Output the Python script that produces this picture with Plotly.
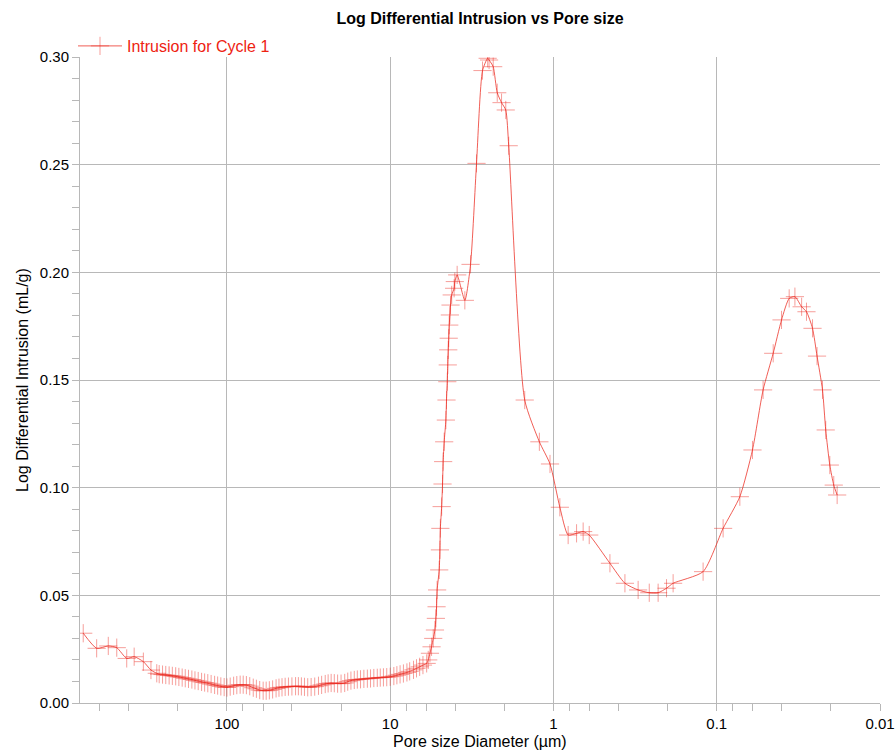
import plotly.graph_objects as go

# Pore size diameter (µm) and log differential intrusion (mL/g), Cycle 1
diameter = [
    759, 628, 533, 473, 411, 370, 325, 292, 269,
    260, 248, 237, 226, 216, 206, 197, 188, 180, 172, 164, 157, 150, 143, 137, 131,
    125, 119, 114, 109, 104, 100, 95.5, 91, 87, 83, 79.5, 76, 72.5, 69, 66, 63, 60,
    57.5, 55, 52.5, 50, 48, 46, 44, 42, 40, 38, 36.5, 35, 33.5, 32, 30.5, 29, 27.5,
    26.3, 25, 24, 23, 22, 21, 20, 19, 18.2, 17.4, 16.6, 15.9, 15.2, 14.5, 13.8, 13.2,
    12.6, 12, 11.5, 11, 10.5, 10, 9.5, 9.1, 8.7, 8.3, 7.9, 7.6, 7.2, 6.9, 6.6, 6.3,
    5.98, 5.85, 5.71, 5.58, 5.45, 5.32, 5.25, 5.20, 5.16, 5.01, 4.96, 4.93, 4.84, 4.78,
    4.74, 4.67, 4.56, 4.52, 4.47, 4.44, 4.41, 4.38, 4.35, 4.31, 4.27, 4.20, 4.06, 4.02,
    3.89, 3.49, 3.22, 2.96, 2.72, 2.53, 2.48, 2.34, 2.21, 2.08, 1.96, 1.88,
    1.50, 1.22, 1.05, 0.914, 0.813, 0.722, 0.658, 0.604, 0.451, 0.365, 0.303, 0.259,
    0.2285, 0.203, 0.185, 0.1212, 0.0914, 0.0722, 0.0604, 0.052, 0.0451, 0.0401,
    0.0360, 0.0332, 0.0302, 0.0282, 0.0259, 0.0243, 0.0225, 0.0215, 0.0203, 0.0192,
    0.0183,
]
intrusion = [
    0.0324, 0.0254, 0.0265, 0.0257, 0.0207, 0.0215, 0.0192, 0.0153, 0.0138,
    0.0134, 0.0132, 0.0130, 0.0128, 0.0126, 0.0124, 0.0121, 0.0118, 0.0115, 0.0112,
    0.0109, 0.0105, 0.0102, 0.0098, 0.0095, 0.0092,
    0.0088, 0.0084, 0.0081, 0.0077, 0.0074, 0.0072, 0.0076, 0.0080, 0.0083, 0.0085,
    0.0085, 0.0083, 0.0078, 0.0071, 0.0066, 0.0060, 0.0057,
    0.0057, 0.0059, 0.0063, 0.0068, 0.0071, 0.0073, 0.0075, 0.0076, 0.0077, 0.0078,
    0.0078, 0.0077, 0.0075, 0.0073, 0.0074, 0.0076, 0.0080,
    0.0084, 0.0088, 0.0091, 0.0093, 0.0092, 0.0090, 0.0090, 0.0093, 0.0099, 0.0104,
    0.0107, 0.0109, 0.0110, 0.0112, 0.0113, 0.0114,
    0.0116, 0.0117, 0.0118, 0.0119, 0.0120, 0.0122, 0.0125, 0.0129, 0.0133, 0.0137,
    0.0142, 0.0147, 0.0154, 0.0161, 0.0168, 0.0176,
    0.0184, 0.0200, 0.0231, 0.0261, 0.0300, 0.0339, 0.0393, 0.0447, 0.0525, 0.0618,
    0.0711, 0.0811, 0.0912, 0.1017,
    0.1121, 0.1213, 0.1314, 0.1407, 0.1492, 0.1570, 0.1640, 0.1694, 0.1755, 0.1802,
    0.1848, 0.1895, 0.1926, 0.1957,
    0.1988, 0.1870, 0.2037, 0.2506, 0.2937, 0.2994, 0.2986, 0.2955, 0.2834, 0.2788,
    0.2754, 0.2588,
    0.1407, 0.1213, 0.1110, 0.0909, 0.0780, 0.0788, 0.0796, 0.0780, 0.0649, 0.0556,
    0.0525, 0.0512,
    0.0512, 0.0533, 0.0556, 0.0610, 0.0811, 0.0958, 0.1175, 0.1454, 0.1624, 0.1779,
    0.1879, 0.1887, 0.1840, 0.1817, 0.1740, 0.1611, 0.1454, 0.1268, 0.1105, 0.1012,
    0.0966,
]

x_tick_vals = [100, 10, 1, 0.1, 0.01]
x_tick_text = ["100", "10", "1", "0.1", "0.01"]
x_minor_vals = [800, 600, 400, 200, 80, 60, 40, 20, 8, 6, 4, 2,
                0.8, 0.6, 0.4, 0.2, 0.08, 0.06, 0.04, 0.02]

RED = "rgba(235,40,30,0.75)"
RED_M = "rgba(235,40,30,0.45)"
GRID = "#b8b8b8"
FONT = "Liberation Sans, Arial, sans-serif"

W, H = 896, 751
ML, MR, MT, MB = 80, 16, 57, 48
PW, PH = W - ML - MR, H - MT - MB

fig = go.Figure()
fig.add_trace(go.Scatter(
    x=diameter, y=intrusion, mode="lines+markers",
    name="Intrusion for Cycle 1",
    line=dict(color=RED, width=1, shape="spline", smoothing=0.6),
    marker=dict(symbol="cross-thin", size=13, color=RED_M,
                line=dict(color=RED_M, width=1)),
))

fig.update_layout(
    width=W, height=H,
    margin=dict(l=ML, r=MR, t=MT, b=MB),
    paper_bgcolor="white", plot_bgcolor="white",
    font=dict(family=FONT, size=15, color="black"),
    title=dict(text="<b>Log Differential Intrusion vs Pore size</b>",
               x=(ML + PW / 2) / W, xanchor="center", y=1 - 18 / H, yanchor="middle",
               font=dict(size=16, color="black", family=FONT)),
    showlegend=True,
    legend=dict(x=-7 / PW, xanchor="left", y=1 + 11 / PH, yanchor="middle",
                bgcolor="rgba(0,0,0,0)", font=dict(size=16, color="#ee2211", family=FONT),
                itemwidth=44, borderwidth=0),
    xaxis=dict(
        type="log", range=[2.9, -2], automargin=False,
        tickmode="array", tickvals=x_tick_vals, ticktext=x_tick_text,
        ticks="outside", ticklen=7, tickcolor=GRID, tickwidth=1,
        showgrid=True, gridcolor=GRID, gridwidth=1,
        showline=True, linecolor=GRID, linewidth=1,
        zeroline=False,
        minor=dict(tickmode="array", tickvals=x_minor_vals, ticks="outside",
                   ticklen=7, tickcolor=GRID, showgrid=False),
        tickfont=dict(size=15, color="black"),
    ),
    yaxis=dict(
        range=[0, 0.30], automargin=False,
        tickmode="linear", tick0=0, dtick=0.05, tickformat=".2f",
        ticks="outside", ticklen=7, tickcolor=GRID, tickwidth=1,
        showgrid=True, gridcolor=GRID, gridwidth=1,
        showline=True, linecolor=GRID, linewidth=1,
        zeroline=False,
        minor=dict(dtick=0.01, ticks="outside", ticklen=7, tickcolor=GRID, showgrid=False),
        tickfont=dict(size=15, color="black"),
    ),
    annotations=[
        dict(text="Pore size Diameter (µm)", xref="paper", yref="paper",
             x=0.5, y=-(741 - (H - MB)) / PH, xanchor="center", yanchor="middle",
             showarrow=False, font=dict(size=16, color="black")),
        dict(text="Log Differential Intrusion (mL/g)", xref="paper", yref="paper",
             x=-(ML - 22) / PW, y=0.5, xanchor="center", yanchor="middle",
             textangle=-90, showarrow=False, font=dict(size=16, color="black")),
    ],
)

fig.write_html(
    "out.html",
    config={"displayModeBar": False},
    post_script="document.body.style.margin='0px';document.body.style.overflow='hidden';",
)
